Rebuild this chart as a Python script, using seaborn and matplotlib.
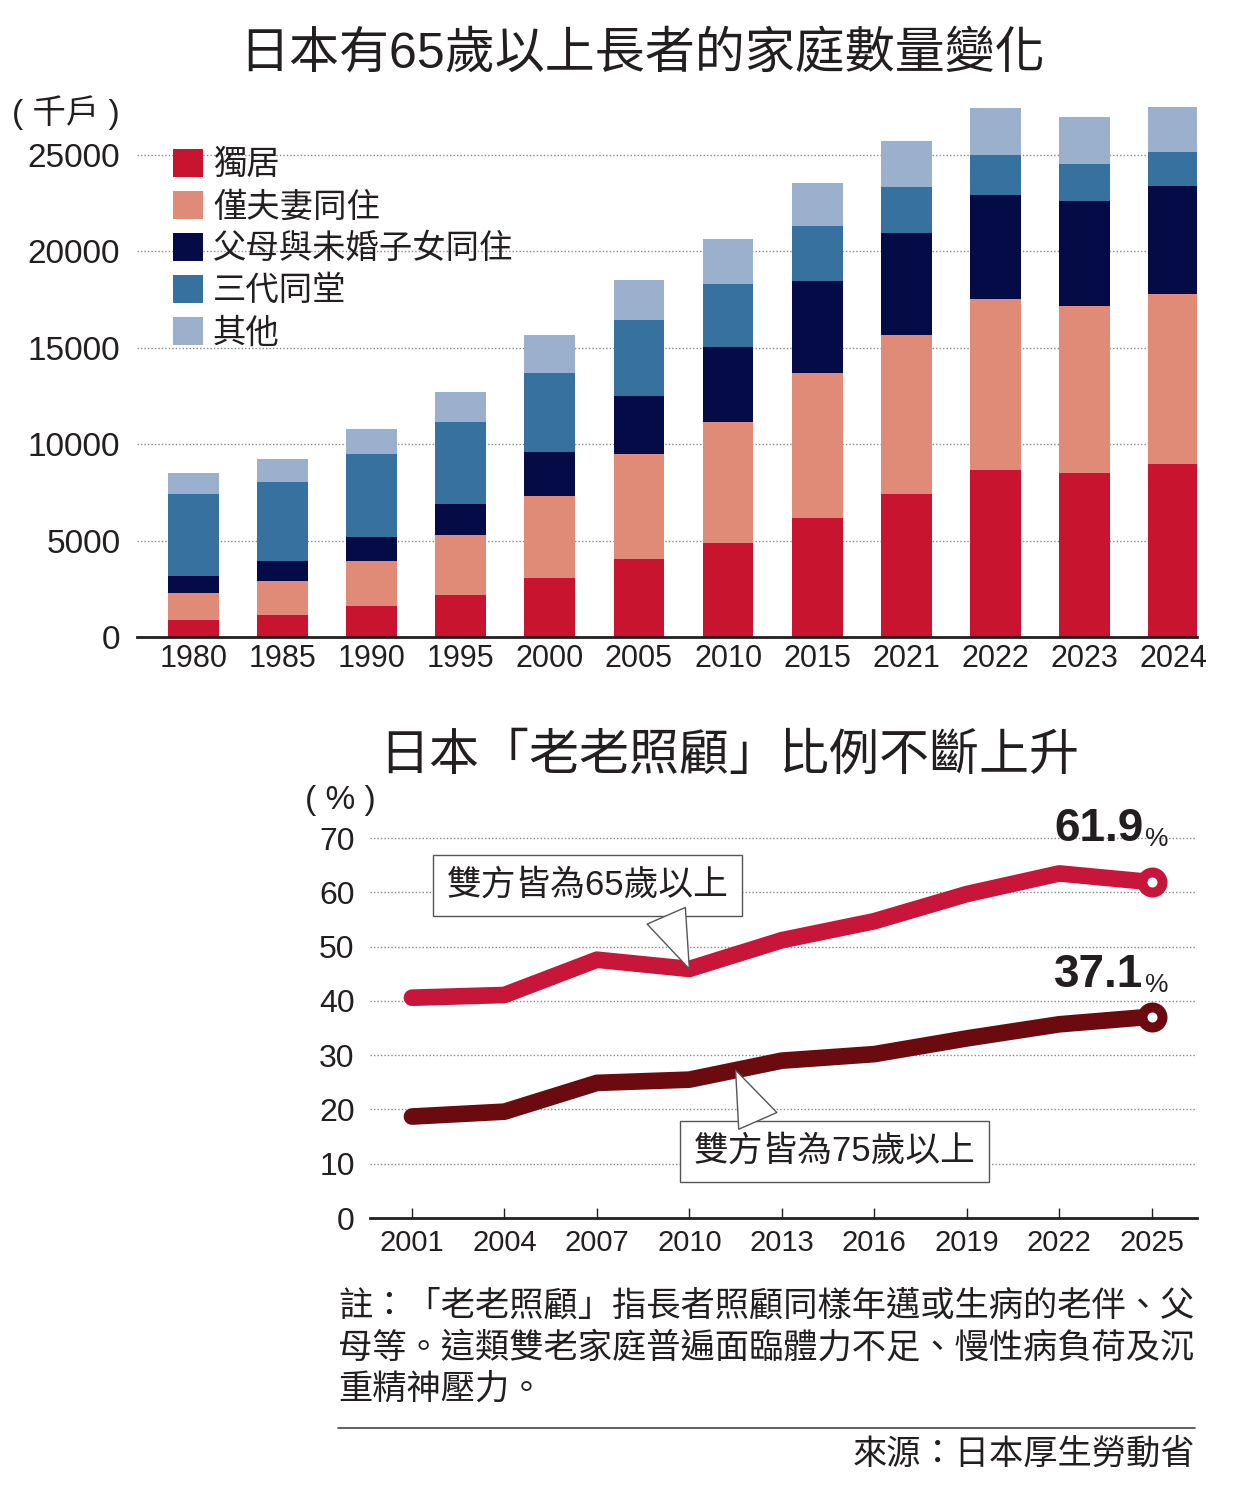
import numpy as np
import pandas as pd
import matplotlib
matplotlib.use("Agg")
import matplotlib.pyplot as plt
import seaborn as sns
from matplotlib.patches import Patch
from matplotlib.lines import Line2D

# household data (thousand households)
years = ["1980", "1985", "1990", "1995", "2000", "2005", "2010", "2015", "2021", "2022", "2023", "2024"]
single = [910, 1131, 1613, 2199, 3079, 4069, 4900, 6150, 7420, 8680, 8530, 8990]
couple = [1379, 1795, 2314, 3075, 4234, 5420, 6250, 7560, 8230, 8850, 8650, 8820]
parents_children = [891, 1012, 1275, 1636, 2268, 3010, 3900, 4740, 5290, 5390, 5460, 5590]
three_gen = [4254, 4090, 4270, 4232, 4141, 3947, 3250, 2880, 2420, 2100, 1900, 1750]
other = [1062, 1199, 1345, 1553, 1924, 2088, 2340, 2230, 2360, 2400, 2430, 2340]

categories = ["獨居", "僅夫妻同住", "父母與未婚子女同住", "三代同堂", "其他"]
colors = ["#c8142f", "#e08b78", "#040b47", "#36719f", "#9bb0cc"]

# "老老照顧" share (%)
care_years = ["2001", "2004", "2007", "2010", "2013", "2016", "2019", "2022", "2025"]
care_65 = [40.6, 41.1, 47.6, 45.9, 51.2, 54.7, 59.7, 63.5, 61.9]
care_75 = [18.7, 19.6, 24.9, 25.5, 29.0, 30.2, 33.1, 35.7, 37.1]

sns.set_theme(style="white")
plt.rcParams["font.family"] = ["Liberation Sans", "Noto Sans CJK TC", "DejaVu Sans"]
plt.rcParams["text.color"] = "#231f20"
plt.rcParams["xtick.color"] = "#231f20"
plt.rcParams["ytick.color"] = "#231f20"

fig = plt.figure(figsize=(12.5, 15), dpi=100)
fig.patch.set_facecolor("white")

# ---- stacked bar chart ----
ax1 = fig.add_axes([0.1096, 0.5753, 0.848, 0.3663])
df = pd.DataFrame({"year": years, "獨居": single, "僅夫妻同住": couple,
                   "父母與未婚子女同住": parents_children, "三代同堂": three_gen, "其他": other})
cum = df[categories].cumsum(axis=1)
cum["year"] = df["year"]
for cat, c in zip(categories[::-1], colors[::-1]):
    sns.barplot(data=cum, x="year", y=cat, color=c, saturation=1, width=0.57,
                errorbar=None, ax=ax1, zorder=2, linewidth=0)

ax1.set_ylim(0, 28500)
ax1.set_xlim(-0.63, 11.26)
ax1.set_yticks([0, 5000, 10000, 15000, 20000, 25000])
for v in [5000, 10000, 15000, 20000, 25000]:
    ax1.axhline(v, color="#8a8a8a", lw=1, ls=(0, (1, 1.5)), zorder=1)
ax1.set_xlabel("")
ax1.set_ylabel("")
for s in ["top", "right", "left"]:
    ax1.spines[s].set_visible(False)
ax1.spines["bottom"].set_color("#231f20")
ax1.spines["bottom"].set_linewidth(2)
ax1.spines["bottom"].set_zorder(3)
ax1.tick_params(axis="y", length=0, pad=12, labelsize=24)
ax1.tick_params(axis="x", length=0, pad=5, labelsize=22)

handles = [Patch(facecolor=c, edgecolor="none", label=l) for c, l in zip(colors, categories)]
fig.legend(handles=handles, loc="upper left", bbox_to_anchor=(173 / 1250, 1 - 149 / 1500),
           bbox_transform=fig.transFigure, frameon=False, fontsize=24,
           handlelength=0.9, handleheight=0.9, handletextpad=0.3, labelspacing=0.29,
           borderpad=0, borderaxespad=0)

fig.text(0.514, 0.964, "日本有65歲以上長者的家庭數量變化", ha="center", va="center",
         fontsize=36, fontweight="medium")
fig.text(0.01, 1 - 113 / 1500, "( 千戶 )", ha="left", va="center", fontsize=24)

# ---- line chart ----
ax2 = fig.add_axes([0.296, 0.188, 0.6616, 0.2713])
xpos = np.arange(len(care_years))
line_df = pd.DataFrame({"x": np.concatenate([xpos, xpos]),
                        "y": care_65 + care_75,
                        "group": ["65"] * len(xpos) + ["75"] * len(xpos)})
line_colors = {"65": "#c8163a", "75": "#6b0a0f"}
sns.lineplot(data=line_df, x="x", y="y", hue="group", palette=line_colors, lw=12,
             legend=False, ax=ax2, solid_capstyle="round", solid_joinstyle="round", zorder=3)
ax2.plot(xpos[-1], care_65[-1], marker="o", ms=14.4, mfc="white", mec=line_colors["65"],
         mew=7.2, zorder=4, clip_on=False)
ax2.plot(xpos[-1], care_75[-1], marker="o", ms=14.4, mfc="white", mec=line_colors["75"],
         mew=7.2, zorder=4, clip_on=False)

ax2.set_ylim(0, 75)
ax2.set_xlim(-0.454, 8.49)
ax2.set_yticks(range(0, 80, 10))
for v in range(10, 80, 10):
    ax2.axhline(v, color="#8a8a8a", lw=1, ls=(0, (1, 1.5)), zorder=1)
ax2.set_xticks(xpos)
ax2.set_xticklabels(care_years)
ax2.set_xlabel("")
ax2.set_ylabel("")
for s in ["top", "right", "left"]:
    ax2.spines[s].set_visible(False)
ax2.spines["bottom"].set_color("#231f20")
ax2.spines["bottom"].set_linewidth(2)
ax2.tick_params(axis="y", length=0, pad=11, labelsize=23)
ax2.tick_params(axis="x", direction="in", length=7, width=1, color="#231f20", pad=8,
                labelsize=21, bottom=True)

# end value labels
for vals, dy in [(care_65, 41), (care_75, 30)]:
    t = ax2.annotate(f"{vals[-1]:.1f}", xy=(xpos[-1], vals[-1]), xytext=(-8, dy),
                     textcoords="offset pixels", ha="right", va="baseline",
                     fontsize=33, fontweight="bold", color="#231f20",
                     family=["Liberation Sans", "DejaVu Sans"])
    ax2.annotate("%", xy=(1, 0), xycoords=t, xytext=(1, 0), textcoords="offset pixels",
                 ha="left", va="bottom", fontsize=19, color="#231f20")

# callouts: box + speech-bubble pointer
box = dict(boxstyle="square,pad=0.4", fc="white", ec="#555555", lw=1)
wedge = dict(arrowstyle="wedge,tail_width=1.5,shrink_factor=0.5", mutation_scale=20,
             fc="white", ec="#555555", lw=1, shrinkA=0, shrinkB=0)
ax2.annotate("雙方皆為65歲以上", xy=(1.9, 61.3), ha="center", va="center",
             fontsize=25, bbox=box, zorder=5)
ax2.annotate("", xy=(xpos[3], care_65[3]), xytext=(2.75, 55.7), arrowprops=wedge, zorder=6)
ax2.annotate("雙方皆為75歲以上", xy=(4.57, 12.3), ha="center", va="center",
             fontsize=25, bbox=box, zorder=5)
ax2.annotate("", xy=((xpos[3] + xpos[4]) / 2, (care_75[3] + care_75[4]) / 2),
             xytext=(3.74, 17.9), arrowprops=wedge, zorder=6)

fig.text(0.583, 1 - 757 / 1500, "日本「老老照顧」比例不斷上升", ha="center", va="center",
         fontsize=36, fontweight="medium")
fig.text(305 / 1250, 1 - 800 / 1500, "( % )", ha="left", va="center", fontsize=24)

note = ("註：「老老照顧」指長者照顧同樣年邁或生病的老伴、父\n"
        "母等。這類雙老家庭普遍面臨體力不足、慢性病負荷及沉\n"
        "重精神壓力。")
fig.text(338 / 1250, 1 - 1290 / 1500, note, ha="left", va="top", fontsize=24.7,
         linespacing=1.34)
fig.add_artist(Line2D([338 / 1250, 1195 / 1250], [1 - 1428 / 1500] * 2,
                      transform=fig.transFigure, color="#444444", lw=1.2))
fig.text(1195 / 1250, 1 - 1455 / 1500, "來源：日本厚生勞動省", ha="right", va="center",
         fontsize=24.7)

fig.savefig("out.png", dpi=100, facecolor="white")
